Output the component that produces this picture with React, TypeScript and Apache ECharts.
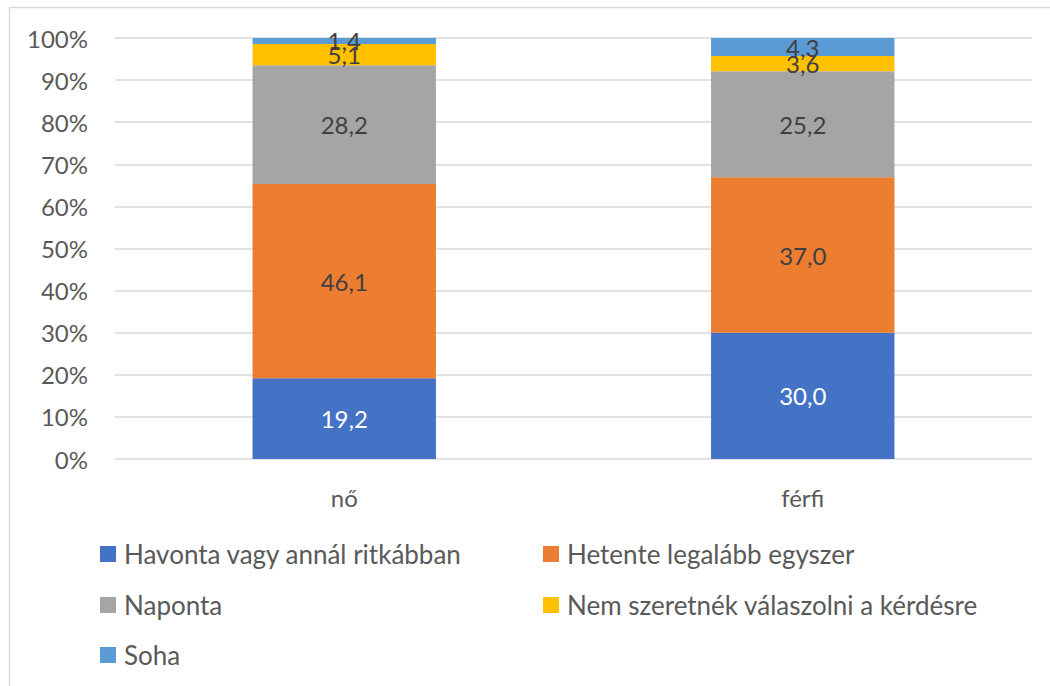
import React, { useEffect, useRef } from "react";
import * as echarts from "echarts";

const categories = ["nő", "férfi"];
const seriesNames = [
  "Havonta vagy annál ritkábban",
  "Hetente legalább egyszer",
  "Naponta",
  "Nem szeretnék válaszolni a kérdésre",
  "Soha",
];
const havonta = [19.2, 30.0];
const hetente = [46.1, 37.0];
const naponta = [28.2, 25.2];
const nemSzeretnek = [5.1, 3.6];
const soha = [1.4, 4.3];
const yTicks = [0, 10, 20, 30, 40, 50, 60, 70, 80, 90, 100];

const colors = ["#4472C4", "#ED7D31", "#A5A5A5", "#FFC000", "#5B9BD5"];
const labelColors = ["#ffffff", "#404040", "#404040", "#404040", "#404040"];

const FONT = "Lato";
const TEXT = "#595959";

export default function App() {
  const ref = useRef<HTMLDivElement>(null);
  useEffect(() => {
    if (!ref.current) return;
    const chart = echarts.init(ref.current, null, { renderer: "svg" });
    const all = [havonta, hetente, naponta, nemSzeretnek, soha];
    const totals = categories.map((_, i) => all.reduce((s, arr) => s + arr[i], 0));
    const series = all.map((arr, si) => ({
      name: seriesNames[si],
      type: "bar",
      stack: "total",
      barWidth: "40%",
      itemStyle: { color: colors[si] },
      label: {
        show: true,
        position: "inside",
        color: labelColors[si],
        fontFamily: FONT,
        fontSize: 24,
        formatter: (p: any) => arr[p.dataIndex].toFixed(1).replace(".", ","),
      },
      data: arr.map((v, i) => (v / totals[i]) * 100),
    }));
    const legendPos = [
      { left: 100, top: 541 },
      { left: 543, top: 541 },
      { left: 100, top: 592 },
      { left: 543, top: 592 },
      { left: 100, top: 642 },
    ];
    chart.setOption({
      animation: false,
      backgroundColor: "#ffffff",
      grid: { left: 115, right: 18, top: 38, bottom: 227 },
      xAxis: {
        type: "category",
        data: categories,
        axisLine: { show: false },
        axisTick: { show: false },
        axisLabel: { color: TEXT, fontFamily: FONT, fontSize: 24, margin: 26 },
      },
      yAxis: {
        type: "value",
        min: yTicks[0],
        max: yTicks[yTicks.length - 1],
        interval: 10,
        axisLine: { show: false },
        axisTick: { show: false },
        splitLine: { lineStyle: { color: "#d9d9d9", width: 1.5 } },
        axisLabel: {
          color: TEXT,
          fontFamily: FONT,
          fontSize: 24,
          margin: 27,
          formatter: "{value}%",
        },
      },
      legend: seriesNames.map((n, i) => ({
        data: [n],
        left: legendPos[i].left,
        top: legendPos[i].top,
        padding: 0,
        itemWidth: 16,
        itemHeight: 16,
        itemGap: 0,
        selectedMode: false,
        icon: "rect",
        textStyle: { color: TEXT, fontFamily: FONT, fontSize: 26, lineHeight: 26, padding: [0, 0, 0, 3] },
      })),
      graphic: [
        {
          type: "rect",
          shape: { x: 9.5, y: 7.5, width: 1100, height: 1000 },
          style: { fill: "none", stroke: "#d9d9d9", lineWidth: 1.5 },
          silent: true,
        },
      ],
      series,
    });
    return () => chart.dispose();
  }, []);
  return (
    <div
      ref={ref}
      style={{ position: "fixed", left: 0, top: 0, width: 1050, height: 686 }}
    />
  );
}
